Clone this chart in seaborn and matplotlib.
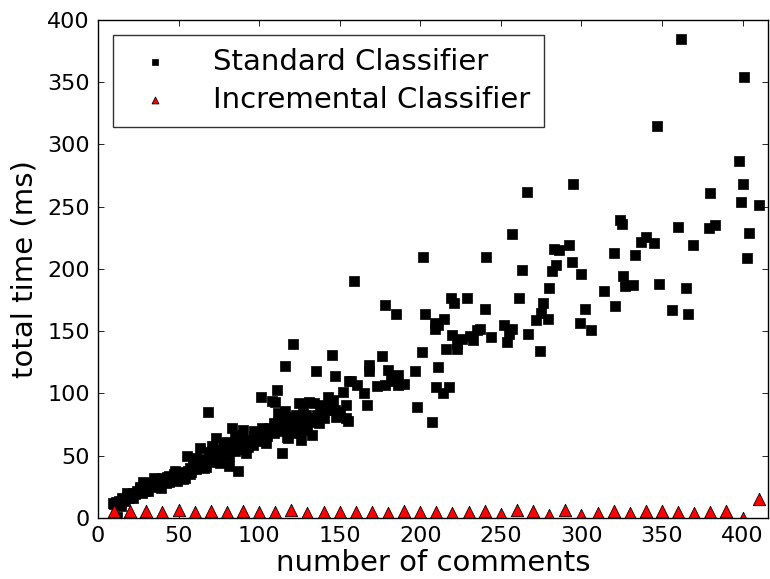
import matplotlib
matplotlib.use("Agg")
import matplotlib.pyplot as plt
import seaborn as sns
import pandas as pd

# Standard classifier: total time (ms) per number of comments
std_comments = [
    9, 10, 11, 12, 12, 13, 14, 15, 16, 17, 18, 19, 20, 21, 22, 23, 24, 25, 26, 27,
    28, 28, 29, 30, 31, 32, 33, 34, 35, 36, 37, 38, 39, 40, 41, 42, 43, 44, 45, 46,
    47, 48, 49, 50, 51, 52, 53, 54, 55, 56, 57, 58, 59, 60, 61, 62, 63, 63, 64, 65,
    66, 67, 68, 69, 70, 71, 72, 73, 74, 75, 76, 77, 78, 79, 80, 81, 82, 83, 84, 85,
    86, 87, 87, 88, 89, 90, 91, 92, 93, 94, 95, 96, 97, 98, 99, 100, 101, 102, 103, 104,
    105, 106, 107, 108, 109, 110, 111, 112, 112, 113, 114, 115, 116, 117, 118, 118, 119, 120, 121, 122,
    123, 124, 125, 126, 127, 128, 129, 130, 131, 132, 133, 134, 135, 136, 137, 138, 139, 140, 141, 143,
    143, 145, 145, 146, 147, 147, 148, 149, 150, 152, 154, 154, 155, 156, 157,
    159, 161, 165, 167, 168, 168, 173, 176, 178, 178, 180, 182, 183, 185, 186, 186, 190, 197, 198, 201,
    202, 203, 207, 209, 209, 210, 211, 211, 214, 215, 216, 218, 219, 220, 221, 223, 223, 226, 229, 231,
    233, 235, 237, 240, 241, 244,
    252, 254, 255, 257, 257, 261, 263, 266, 267, 272, 274, 275, 276, 279, 280, 282, 283, 284, 286, 292,
    294, 295, 299, 300, 302, 306, 314, 320, 321, 324, 325, 326, 327, 332, 333, 337, 340, 345, 347, 348,
    356, 360, 362, 365, 366, 369, 379, 380, 383, 398, 399, 400, 401, 403, 404, 410,
    # extra points filling out the dense low-comment band
    14, 18, 22, 26, 31, 35, 39, 44, 48, 53, 57, 61, 66, 71, 76, 81, 85, 92, 97, 104,
    109, 116, 121, 127, 133, 139,
]
std_time = [
    12, 11, 13, 1, 12, 14, 13, 16, 14, 15, 17, 16, 18, 17, 20, 19, 22, 21, 23, 20,
    29, 24, 22, 26, 25, 28, 25, 27, 29, 30, 27, 31, 28, 32, 30, 28, 33, 34, 31, 33,
    35, 33, 30, 36, 34, 37, 36, 32, 50, 38, 40, 37, 44, 42, 39, 46, 44, 56, 47, 43,
    45, 41, 85, 53, 48, 45, 50, 64, 54, 52, 49, 55, 60, 52, 61, 42, 56, 72, 57, 54,
    59, 38, 61, 64, 58, 71, 55, 60, 57, 63, 61, 59, 66, 65, 62, 68, 97, 72, 63, 70,
    66, 72, 69, 94, 68, 93, 103, 84, 77, 70, 52, 75, 122, 65, 64, 81, 73, 70, 140, 68,
    83, 76, 92, 63, 79, 71, 83, 72, 93, 80, 77, 92, 118, 83, 76, 85, 88, 80, 90, 97,
    87, 131, 92, 95, 114, 87, 81, 83, 85, 101, 91, 80, 78, 110, 110,
    190, 107, 100, 91, 123, 118, 106, 130, 171, 107, 119, 112, 110, 164, 115, 107, 108, 118, 89, 133,
    210, 164, 77, 157, 152, 105, 155, 121, 100, 160, 136, 105, 177, 147, 173, 140, 136, 144, 177, 146,
    143, 151, 152, 168, 210, 145,
    155, 141, 148, 152, 228, 177, 199, 262, 148, 159, 134, 165, 173, 160, 185, 198, 216, 203, 215, 219,
    206, 268, 157, 196, 168, 151, 182, 213, 170, 239, 236, 194, 186, 187, 211, 222, 226, 221, 315, 188,
    167, 234, 385, 185, 164, 219, 233, 261, 235, 287, 254, 268, 354, 209, 229, 251,
    10, 20, 16, 25, 22, 32, 24, 29, 38, 31, 35, 48, 40, 58, 44, 50, 67, 52, 70, 60,
    76, 86, 74, 88, 67, 91,
]

# Incremental classifier: one run every ten comments
inc_comments = [
    10, 20, 30, 40, 50, 60, 70, 80, 90, 100, 110, 120, 130, 140, 150, 160, 170, 180, 190, 200,
    210, 220, 230, 240, 250, 260, 270, 280, 290, 300, 310, 320, 330, 340, 350, 360, 370, 380, 390, 400,
    410,
]
inc_time = [
    5.9, 5.6, 5.3, 4.8, 6.1, 4.8, 5.6, 4.5, 5.6, 4.5, 4.8, 6.4, 4.3, 5.0, 5.1, 5.0, 5.1, 4.3, 5.6, 5.1,
    5.1, 4.0, 5.1, 5.6, 3.0, 6.4, 5.6, 2.4, 6.4, 2.4, 4.3, 5.9, 3.7, 5.6, 5.6, 4.5, 3.7, 4.5, 5.6, 0.0,
    15.0,
]

x_ticks = [0, 50, 100, 150, 200, 250, 300, 350, 400]
y_ticks = [0, 50, 100, 150, 200, 250, 300, 350, 400]

std_df = pd.DataFrame({"comments": std_comments, "time": std_time})
inc_df = pd.DataFrame({"comments": inc_comments, "time": inc_time})

sns.set_theme(style="white")
plt.rcParams.update({
    "font.family": ["DejaVu Sans"],
    "text.color": "black",
    "axes.edgecolor": "black",
    "axes.linewidth": 1.0,
    "xtick.direction": "in",
    "ytick.direction": "in",
    "xtick.top": True,
    "ytick.right": True,
    "xtick.bottom": True,
    "ytick.left": True,
    "xtick.major.size": 4,
    "ytick.major.size": 4,
    "xtick.major.width": 0.6,
    "ytick.major.width": 0.6,
    "xtick.color": "black",
    "ytick.color": "black",
    "xtick.labelsize": 16,
    "ytick.labelsize": 16,
    "axes.labelcolor": "black",
})

fig = plt.figure(figsize=(7.7, 5.79), dpi=100)
ax = fig.add_axes([0.1273, 0.1054, 0.8705, 0.8601])

sns.scatterplot(data=std_df, x="comments", y="time", marker="s", color="black",
                s=52, edgecolor="black", linewidth=0.5, label="Standard Classifier",
                ax=ax)
sns.scatterplot(data=inc_df, x="comments", y="time", marker="^", color="red",
                s=80, edgecolor="black", linewidth=0.6, label="Incremental Classifier",
                ax=ax)

ax.set_xlim(0, 416)
ax.set_ylim(0, 400)
ax.set_xticks(x_ticks)
ax.set_yticks(y_ticks)
ax.set_xlabel("number of comments", fontsize=21, labelpad=2)
ax.set_ylabel("total time (ms)", fontsize=21, labelpad=6)
ax.tick_params(axis="both", pad=6)
for side in ax.spines.values():
    side.set_visible(True)
    side.set_color("black")

leg = ax.legend(loc="upper left", fontsize=21, markerscale=0.55, frameon=True,
                fancybox=False, shadow=False, borderpad=0.45, labelspacing=0.35,
                handlelength=2.0, handletextpad=1.0, borderaxespad=0.5)
leg.get_frame().set_edgecolor("black")
leg.get_frame().set_linewidth(1.0)
for txt in leg.get_texts():
    txt.set_color("black")

fig.savefig("out.png", dpi=100)
